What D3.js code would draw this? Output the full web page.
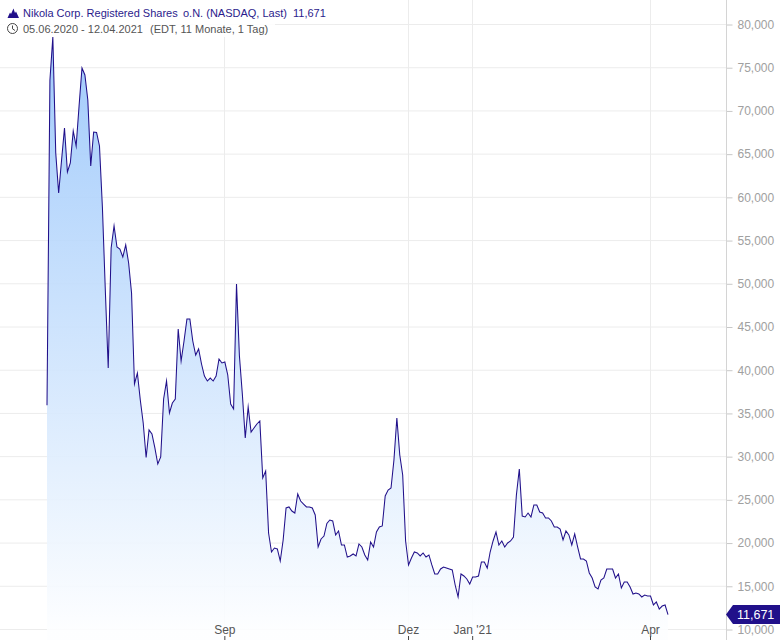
<!DOCTYPE html>
<html>
<head>
<meta charset="utf-8">
<script src="https://cdn.jsdelivr.net/npm/d3@7/dist/d3.min.js"></script>
<style>
html,body{margin:0;padding:0;background:#fff;overflow:hidden}
svg{display:block;font-family:"Liberation Sans",Arial,sans-serif}
</style>
</head>
<body>
<svg id="chart" width="780" height="640"></svg>
<script>
const titleParts = ["Nikola Corp. Registered Shares","o.N. (NASDAQ, Last)","11,671"];
const subParts = ["05.06.2020 - 12.04.2021","(EDT, 11 Monate, 1 Tag)"];
const lastLabel = "11,671";

const pricesJun = [35900,73500,78500,65075,60450,64265,67970,62875,63920,67620,65885,70510,74910,74100,71210,63570,67505,67450];
const pricesJul = [65885,58830,49225,40200,54085,56630,54200,53970,53040,54430,52350,48880,38350,39620,36500,33835,29845,33025,32565,30945,29090,29900];
const pricesAug = [36610,38695,34990,36150,36610,44710,41010,43320,45870,45870,43320,41700,42400,40660,39270,38695,39040,38695,39270,41240,40780];
const pricesSep = [40890,39390,36030,35455,49920,41590,37190,32100,35690,32795,33260,33720,34070,27470,28280,21110,18910,19370,19260,17870,20300,24000,24120];
const pricesOct = [23650,23420,25620,24810,24460,24120,24120,24000,23190,19490,20415,20760,22210,22610,22500,20880,21340,19720,19720,18330,18450,18680];
const pricesNov = [18450,19840,19490,18565,17985,20070,19490,21225,21800,21920,25390,26085,26315,29555,34415,30135,27820,20185];
const pricesDec = [17410,18215,18910,18795,18450,18795,18330,18565,17410,16365,16365,16945,17175,17060,16945,16830,15090,13705,16365,16135,15785,15210];
const pricesJan = [16020,16020,16135,17755,17755,17060,18910,20185,21225,19720,20185,19490,19950,20185,20645,25505,28515,23075,22960,23420,22960];
const pricesFeb = [24350,24350,23540,23420,22845,22845,22495,21800,21800,21570,20300,21340,20880,19720,20995,19490,18100,18100,17870,16480];
const pricesMar = [15900,14860,14630,15670,15900,16945,16945,16945,15900,16365,14745,15440,15440,14860,14050,14165,14050,13705,13935,13820];
const pricesApr = [13820,12780,13125,12315,12660,12780,11671];
const prices = [].concat(pricesJun,pricesJul,pricesAug,pricesSep,pricesOct,pricesNov,pricesDec,pricesJan,pricesFeb,pricesMar,pricesApr);

const monthIndex = [61,124,146,207];
const monthLabels = ["Sep","Dez","Jan '21","Apr"];
const yTicks = [10000,15000,20000,25000,30000,35000,40000,45000,50000,55000,60000,65000,70000,75000,80000];

const W = 780, H = 640, axisX = 726;
const svg = d3.select("#chart");
const x = d3.scaleLinear().domain([0, 213]).range([47, 668]);
const y = d3.scaleLinear().domain([10000, 80000]).range([629, 24]);
const fmt = d3.format(",");

const defs = svg.append("defs");
const grad = defs.append("linearGradient").attr("id","areaFill")
  .attr("gradientUnits","userSpaceOnUse").attr("x1",0).attr("x2",0).attr("y1",37).attr("y2",632);
grad.append("stop").attr("offset",0).attr("stop-color","#97c5fb");
grad.append("stop").attr("offset",1).attr("stop-color","#fdfeff");

// grid
svg.append("g").selectAll("line").data(yTicks).join("line")
  .attr("x1",0).attr("x2",axisX).attr("y1",d=>y(d)+.5).attr("y2",d=>y(d)+.5)
  .attr("stroke","#ececec");
svg.append("g").selectAll("line").data(monthIndex).join("line")
  .attr("x1",d=>Math.round(x(d))-.5).attr("x2",d=>Math.round(x(d))-.5).attr("y1",0).attr("y2",H)
  .attr("stroke","#ececec");

// area + line
const idx = prices.map((_,i)=>i);
svg.append("path").datum(idx)
  .attr("fill","url(#areaFill)").attr("fill-opacity",.9)
  .attr("d", d3.area().x(i=>x(i)).y0(H).y1(i=>y(prices[i])));
svg.append("path").datum(idx)
  .attr("fill","none").attr("stroke","#21108a").attr("stroke-width",1.05).attr("stroke-linejoin","miter").attr("stroke-miterlimit",10)
  .attr("d", d3.line().x(i=>x(i)).y(i=>y(prices[i])));

// y axis
const yAxis = d3.axisRight(y).tickValues(yTicks).tickSize(6).tickPadding(5)
  .tickFormat(d=>fmt(d));
const gy = svg.append("g").attr("transform",`translate(${axisX+.5},0.5)`).call(yAxis);
gy.select(".domain").remove();
gy.selectAll(".tick line").attr("stroke","#c8c8c8");
gy.selectAll(".tick text").attr("fill","#a0a0a0").attr("font-size",12).attr("font-family","'Liberation Sans',Arial,sans-serif");
svg.append("line").attr("x1",axisX+.5).attr("x2",axisX+.5).attr("y1",0).attr("y2",H).attr("stroke","#d4d4d4");

// x axis
const xAxis = d3.axisBottom(x).tickValues(monthIndex).tickSize(4).tickPadding(0)
  .tickFormat((d,i)=>monthLabels[i]);
const gx = svg.append("g").attr("transform","translate(-0.5,636)").call(xAxis);
gx.select(".domain").remove();
gx.selectAll(".tick line").attr("stroke","#444");
gx.selectAll(".tick text").attr("fill","#555").attr("font-size",12)
  .attr("font-family","'Liberation Sans',Arial,sans-serif").attr("y",-2).attr("dy",0);

// header background and text
svg.append("rect").attr("x",0).attr("y",0).attr("width",275).attr("height",37).attr("fill","#fff").attr("fill-opacity",.9);
svg.append("rect").attr("x",275).attr("y",0).attr("width",53).attr("height",20).attr("fill","#fff");
svg.append("path").attr("fill","#21108a")
  .attr("d","M7.5 18 L10 12.5 L11 14 L13.5 8.5 L15 13 L16 11.5 L19 18 Z");
svg.append("circle").attr("cx",12.5).attr("cy",28.5).attr("r",5).attr("fill","none").attr("stroke","#444").attr("stroke-width",1);
svg.append("path").attr("d","M12.5 25.5 V28.8 L15 30.5").attr("fill","none").attr("stroke","#444").attr("stroke-width",1);
const t1 = svg.append("text").attr("y",17).attr("font-size",11).attr("fill","#2b1b8c");
t1.selectAll("tspan").data(titleParts).join("tspan").attr("x",(d,i)=>[23,183,293][i]).text(d=>d);
const t2 = svg.append("text").attr("y",33).attr("font-size",11).attr("fill","#555");
t2.selectAll("tspan").data(subParts).join("tspan").attr("x",(d,i)=>[23,150][i]).text(d=>d);

// last price tag
const lastY = y(prices[prices.length-1]);
svg.append("path").attr("fill","#21108a")
  .attr("d",d3.line()([[726,lastY],[733,lastY-9.5],[W,lastY-9.5],[W,lastY+9.5],[733,lastY+9.5]])+"Z");
svg.append("text").attr("x",737).attr("y",lastY+4.5).attr("font-size",12.5).attr("fill","#fff").text(lastLabel);
</script>
</body>
</html>
